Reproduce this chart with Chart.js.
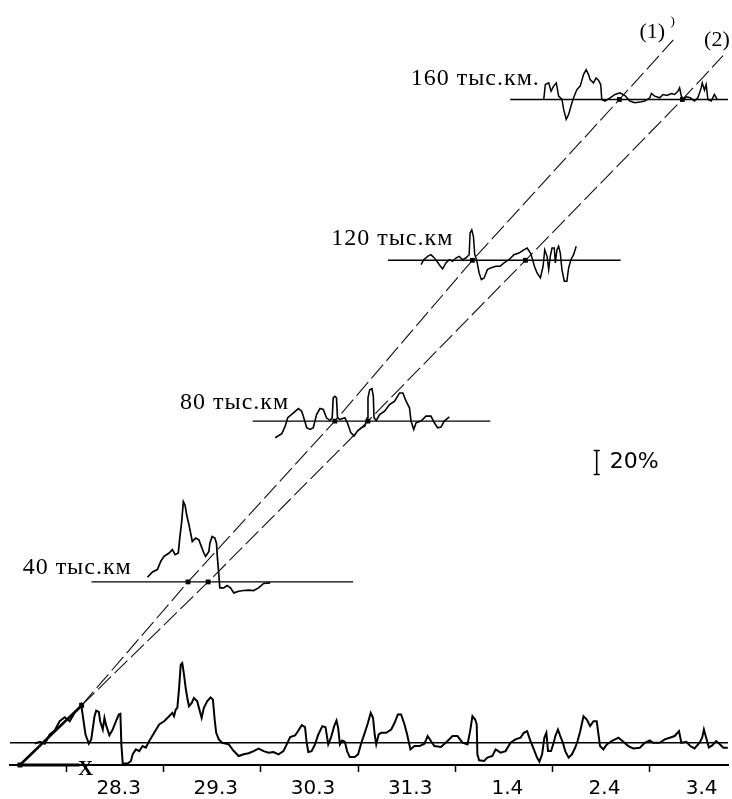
<!DOCTYPE html>
<html>
<head>
<meta charset="utf-8">
<script src="https://cdn.jsdelivr.net/npm/chart.js@4.4.0/dist/chart.umd.min.js"></script>
<style>
  html, body { margin: 0; padding: 0; background: #fff; }
  #wrap { width: 732px; height: 799px; }
</style>
</head>
<body>
<div id="wrap"><canvas id="c" width="732" height="799"></canvas></div>
<script>
// Day labels under the time axis (day.month), one per day interval
const dayLabels = ['28.3', '29.3', '30.3', '31.3', '1.4', '2.4', '3.4'];

// Distance levels of the stations, thousand km
const levels = [0, 40, 80, 120, 160];
const levelNames = ['', '40 тыс.км', '80 тыс.км', '120 тыс.км', '160 тыс.км.'];

// Time span of each zero line, days from 28.3 00:00
const baseStart = [-0.583, 0.256, 1.914, 3.306, 4.565];
const baseEnd   = [ 6.806, 2.948, 4.360, 5.701, 6.806];

// Records: time (days from 28.3 00:00) and deviation (%)
const t0 = [-0.328,-0.276,-0.225,-0.174,-0.123,-0.072,-0.020,0.031,0.082,0.133,0.150,0.174,0.194,0.228,0.253,0.287,0.304,0.331,0.345,0.372,0.389,0.406,0.440,0.474,0.508,0.536,0.553,0.563,0.577,0.628,0.662,0.679,0.713,0.747,0.781,0.815,0.850,0.901,0.952,1.003,1.054,1.088,1.105,1.123,1.139,1.157,1.174,1.190,1.208,1.225,1.242,1.259,1.287,1.310,1.344,1.361,1.389,1.412,1.446,1.481,1.505,1.525,1.539,1.566,1.600,1.668,1.720,1.771,1.822,1.873,
  1.924,1.975,2.027,2.078,2.129,2.180,2.231,2.265,2.300,2.351,2.385,2.419,2.453,2.470,2.487,2.521,2.556,2.590,2.631,2.664,2.692,2.720,2.753,2.777,2.794,2.812,2.835,2.863,2.886,2.914,2.965,2.999,3.033,3.068,3.101,3.129,3.153,3.170,3.186,3.211,3.237,3.289,3.340,3.375,3.408,3.442,3.477,3.504,3.538,3.579,3.631,3.682,3.715,3.749,3.784,3.852,3.920,3.971,4.022,4.074,4.125,4.152,4.176,4.204,4.220,4.227,4.245,4.296,
  4.330,4.381,4.415,4.466,4.517,4.568,4.619,4.670,4.705,4.739,4.767,4.808,4.841,4.865,4.893,4.916,4.937,4.954,4.985,5.012,5.029,5.056,5.080,5.107,5.131,5.166,5.200,5.233,5.258,5.285,5.319,5.353,5.387,5.422,5.455,5.473,5.489,5.524,5.558,5.609,5.678,5.729,5.780,5.831,5.899,5.950,6.001,6.036,6.103,6.155,6.206,6.257,6.302,6.326,6.377,6.418,6.462,6.513,6.540,6.558,6.581,6.609,6.643,6.684,6.717,6.758,6.804];
const v0 = [-0.8,0.8,-0.8,6.9,10.3,18.0,21.3,18.0,25.0,29.2,31.9,18.0,6.9,-0.8,2.8,22.2,26.9,25.8,18.0,11.1,20.8,14.7,6.3,11.1,18.0,23.6,24.2,-1.4,-17.5,-17.5,-15.3,-9.7,-5.6,-7.0,-2.8,-4.2,1.4,8.3,15.3,18.0,22.2,25.0,22.2,27.8,29.2,45.8,65.3,66.7,56.9,45.8,37.5,30.5,33.3,37.5,34.7,29.2,20.8,29.2,34.7,38.0,36.1,18.0,8.3,2.8,0,-1.4,-7.0,-11.1,-9.7,-8.8,
  -7.0,-5.0,-7.0,-8.3,-7.8,-9.7,-7.0,-1.4,4.7,6.1,10.3,14.7,13.0,0,-7.8,-7.0,-1.4,6.9,13.9,13.0,-1.4,4.2,13.9,18.6,12.5,-1.4,1.9,0.8,-7.0,-12.0,-12.0,-9.7,0,8.3,16.7,25.0,20.8,6.9,-1.4,6.9,8.3,8.3,11.1,16.7,23.6,23.6,15.3,6.9,-5.6,-2.8,-2.8,-0.8,5.6,1.4,-2.8,-3.6,1.4,5.6,5.6,0,-1.4,9.7,22.2,19.4,15.3,-9.7,-14.7,-15.3,
  -12.5,-11.1,-5.6,-8.3,-7.0,0,2.8,4.2,8.3,9.7,2.8,-5.6,-12.5,-15.8,-9.7,4.2,8.3,-7.0,-7.0,0,5.6,11.1,5.6,0,-7.0,-12.5,-9.7,-4.2,1.4,9.7,22.2,19.4,13.9,18.0,18.0,6.9,-2.8,-5.6,-1.4,1.4,4.2,0.8,-2.8,-4.8,-4.2,0,1.9,0,0,2.8,4.2,5.6,9.7,0,0.8,-2.8,-4.8,0,4.2,11.1,4.2,-3.9,-2.3,1.4,-0.8,-4.2,-4.2];

const t40 = [0.832,0.883,0.934,0.969,1.003,1.054,1.088,1.116,1.149,1.164,1.184,1.201,1.218,1.235,1.259,1.276,1.293,1.328,1.361,1.379,1.412,1.430,1.464,1.474,1.497,1.525,1.542,1.549,1.566,1.576,1.617,1.651,1.686,1.720,1.771,1.822,1.873,1.924,1.975,2.027,2.095];
const v40 = [3.9,8.3,10.3,17.3,21.4,24.2,27.0,22.8,24.2,36.7,50.6,67.3,64.5,56.2,47.8,40.8,33.9,36.7,35.3,31.2,24.2,21.4,25.6,32.5,38.1,36.7,32.5,22.8,6.2,-5.0,-5.0,-3.0,-5.0,-9.2,-7.8,-7.2,-6.9,-7.2,-5.0,-1.3,-0.8];

const t80 = [2.146,2.214,2.249,2.275,2.334,2.385,2.419,2.446,2.470,2.505,2.538,2.572,2.607,2.641,2.674,2.709,2.733,2.743,2.760,2.777,2.787,2.812,2.863,2.889,2.924,2.958,2.992,3.033,3.068,3.094,3.101,3.119,3.142,3.156,3.163,3.186,3.221,3.272,3.323,3.375,3.426,3.460,3.493,3.528,3.544,3.572,3.596,3.647,3.698,3.749,3.784,3.818,3.852,3.886,3.938];
const v80 = [-13.9,-10.6,-4.2,2.8,6.9,10.5,8.3,1.3,-5.6,-7.0,-5.6,5.5,10.5,9.7,2.8,0.5,2.8,19.4,20.8,19.4,2.8,1.3,2.8,-1.4,-9.7,-12.5,-8.3,-5.6,-4.2,2.8,19.4,26.3,27.2,20.8,2.8,0.5,5.5,8.3,13.8,16.7,23.6,23.6,16.7,11.1,0,-7.0,-1.4,0,4.2,4.2,-1.4,-5.6,-5.0,0,3.6];

const t120 = [3.647,3.675,3.715,3.749,3.784,3.811,3.835,3.869,3.903,3.938,3.971,4.005,4.040,4.074,4.107,4.142,4.152,4.169,4.186,4.200,4.220,4.245,4.268,4.296,4.330,4.363,4.415,4.460,4.501,4.552,4.603,4.654,4.705,4.739,4.773,4.790,4.814,4.841,4.875,4.903,4.920,4.944,4.961,4.977,4.995,5.018,5.029,5.046,5.063,5.080,5.097,5.121,5.148,5.166,5.189,5.217,5.244];
const v120 = [-3.7,0.5,3.3,4.7,1.9,-0.8,-3.7,-7.2,-2.2,0.5,-0.8,1.9,3.3,0.5,1.9,4.7,22.8,25.5,20.0,4.7,0,-10.6,-16.2,-14.8,-7.8,-6.4,-5.0,-5.0,-2.2,0.5,4.7,6.1,8.8,10.3,6.1,1.9,-5.0,-10.6,-14.8,-5.0,8.8,3.3,-7.8,3.3,10.3,10.3,-2.2,8.8,11.7,6.1,-7.8,-17.5,-17.5,-6.4,0.5,4.7,11.7];

const t160 = [4.910,4.926,4.961,4.985,5.012,5.039,5.063,5.097,5.115,5.141,5.166,5.200,5.223,5.251,5.285,5.319,5.346,5.371,5.387,5.422,5.448,5.473,5.496,5.507,5.540,5.592,5.643,5.694,5.745,5.796,5.847,5.899,5.950,6.001,6.018,6.052,6.103,6.138,6.179,6.223,6.257,6.292,6.308,6.326,6.349,6.377,6.418,6.462,6.496,6.530,6.541,6.564,6.581,6.599,6.633,6.666,6.694];
const v160 = [0,12.5,13.9,7.0,11.2,13.9,2.8,0,-8.3,-16.7,-12.5,-2.8,2.8,8.3,11.2,20.8,25.0,20.8,16.7,13.9,18.0,16.1,12.5,0,-1.3,1.4,4.2,5.6,3.3,-1.3,-2.8,-2.2,-1.3,1.4,5.0,2.8,1.4,4.2,3.3,5.0,4.2,7.0,9.7,2.8,0,2.2,1.4,-1.3,1.4,9.7,13.9,7.8,12.5,0,-1.3,4.2,0];

// Propagation lines (1) and (2): time (days) against distance (thousand km)
const line1Days = [0.154, 1.249, 2.760, 4.176, 5.688, 6.244];
const line1Dist = [9.3, 40, 80, 120, 160, 174.8];
const line2Days = [0.154, 1.456, 3.101, 4.722, 6.336, 6.755];
const line2Dist = [9.3, 40, 80, 120, 160, 170.9];

// Oblique distance axis stub and time axis stub from the origin
const originDay = -0.481, originDist = -5.54;
const stubDay = 0.154, stubDist = 9.3;
const xStubEndDay = 0.133;

// Amplitude scale bar, %
const scaleBarPct = 20;
const scaleBarDay = 5.455, scaleBarDist = 69.7;

// Vertical size of 1 % of deviation, expressed on the distance axis
const PCT = 0.297;

const BLACK = '#000';

function traceSet(ts, vs, level, width) {
  return {
    data: ts.map((t, i) => ({ x: t, y: level + vs[i] * PCT })),
    borderColor: BLACK, borderWidth: width, pointRadius: 0, tension: 0, fill: false
  };
}
function polySet(xs, ys, opts) {
  return Object.assign({
    data: xs.map((x, i) => ({ x: x, y: ys[i] })),
    borderColor: BLACK, borderWidth: 1.5, pointRadius: 0, tension: 0, fill: false
  }, opts || {});
}

const datasets = [];
// zero lines
levels.forEach((lv, i) => {
  datasets.push(polySet([baseStart[i], baseEnd[i]], [lv, lv], { borderWidth: 1.4 }));
});
// propagation lines
datasets.push(polySet(line1Days, line1Dist, { borderWidth: 1.1, borderColor: '#111', borderDash: [18, 5] }));
datasets.push(polySet(line2Days, line2Dist, { borderWidth: 1.1, borderColor: '#111', borderDash: [18, 5] }));
// records
datasets.push(traceSet(t0, v0, levels[0], 2));
datasets.push(traceSet(t40, v40, levels[1], 1.7));
datasets.push(traceSet(t80, v80, levels[2], 1.6));
datasets.push(traceSet(t120, v120, levels[3], 1.5));
datasets.push(traceSet(t160, v160, levels[4], 1.5));
// axis stubs
datasets.push(polySet([originDay, stubDay], [originDist, stubDist], { borderWidth: 2.6, clip: false }));
datasets.push(polySet([originDay, xStubEndDay], [originDist, originDist], { borderWidth: 3.2, clip: false }));
// crossing markers
const markers = [];
for (let k = 1; k <= 4; k++) {
  markers.push({ x: line1Days[k], y: line1Dist[k] });
  markers.push({ x: line2Days[k], y: line2Dist[k] });
}
datasets.push({
  data: markers, showLine: false, pointStyle: 'rect', pointRadius: 3.4,
  pointBackgroundColor: BLACK, pointBorderColor: BLACK, pointBorderWidth: 0
});
datasets.push({
  data: [{ x: originDay, y: originDist }, { x: stubDay, y: stubDist }], showLine: false, clip: false,
  pointStyle: 'rect', pointRadius: 3.5, pointBackgroundColor: BLACK, pointBorderColor: BLACK, pointBorderWidth: 0
});

// texts and the amplitude scale bar
const annotations = {
  id: 'annotations',
  afterDatasetsDraw(chart) {
    const ctx = chart.ctx, xs = chart.scales.x, ys = chart.scales.y;
    ctx.save();
    ctx.fillStyle = BLACK;
    ctx.strokeStyle = BLACK;
    ctx.textBaseline = 'alphabetic';
    ctx.textAlign = 'left';

    // station labels above their zero lines
    const labelDay = [null, -0.453, 1.167, 2.723, 3.541];
    const labelLift = [0, 8.4, 12.3, 15.6, 14];
    ctx.font = '24px "Liberation Serif", "DejaVu Serif", serif';
    ctx.letterSpacing = '1px';
    for (let i = 1; i < levels.length; i++) {
      ctx.fillText(levelNames[i], xs.getPixelForValue(labelDay[i]), ys.getPixelForValue(levels[i]) - labelLift[i]);
    }
    ctx.letterSpacing = '0px';

    // line names
    ctx.font = '22px "Liberation Serif", serif';
    ctx.fillText('(1)', xs.getPixelForValue(5.895), ys.getPixelForValue(175.4));
    ctx.fillText('(2)', xs.getPixelForValue(6.560), ys.getPixelForValue(173.4));
    ctx.font = '13px "Liberation Serif", serif';
    ctx.fillText(')', xs.getPixelForValue(6.215), ys.getPixelForValue(178.6));

    // time axis name
    ctx.font = 'bold 21px "Liberation Serif", serif';
    ctx.textAlign = 'center';
    ctx.fillText('X', xs.getPixelForValue(0.194), chart.chartArea.bottom + 10);

    // amplitude scale bar: 20 %
    const bx = xs.getPixelForValue(scaleBarDay);
    const yTop = ys.getPixelForValue(scaleBarDist + scaleBarPct / 2 * PCT);
    const yBot = ys.getPixelForValue(scaleBarDist - scaleBarPct / 2 * PCT);
    ctx.lineWidth = 1.6;
    ctx.beginPath();
    ctx.moveTo(bx, yTop); ctx.lineTo(bx, yBot);
    ctx.moveTo(bx - 3, yTop); ctx.lineTo(bx + 3, yTop);
    ctx.moveTo(bx - 3, yBot); ctx.lineTo(bx + 3, yBot);
    ctx.stroke();
    ctx.textAlign = 'left';
    ctx.textBaseline = 'middle';
    ctx.font = '22px "DejaVu Sans", sans-serif';
    ctx.fillText(scaleBarPct + '%', bx + 13, (yTop + yBot) / 2);
    ctx.restore();
  }
};

new Chart(document.getElementById('c'), {
  type: 'line',
  data: { datasets: datasets },
  options: {
    responsive: false,
    animation: false,
    events: [],
    layout: { padding: { left: 10, right: 0, top: 0, bottom: 0 } },
    plugins: { legend: { display: false }, tooltip: { enabled: false } },
    scales: {
      x: {
        type: 'linear',
        min: -0.583, max: 6.806,
        afterBuildTicks(scale) { scale.ticks = dayLabels.map((_, i) => ({ value: i })); },
        afterFit(scale) { scale.height = 34; },
        ticks: {
          autoSkip: false, maxRotation: 0, color: BLACK, padding: 5, labelOffset: 52,
          font: { family: '"DejaVu Sans", sans-serif', size: 20 },
          callback: (v) => dayLabels[v] ?? ''
        },
        grid: { drawOnChartArea: false, drawTicks: true, tickLength: 7, tickColor: BLACK, tickWidth: 1.5 },
        border: { display: true, color: BLACK, width: 2 }
      },
      y: { type: 'linear', display: false, min: -5.54, max: 183.75 }
    }
  },
  plugins: [annotations]
});
</script>
</body>
</html>
